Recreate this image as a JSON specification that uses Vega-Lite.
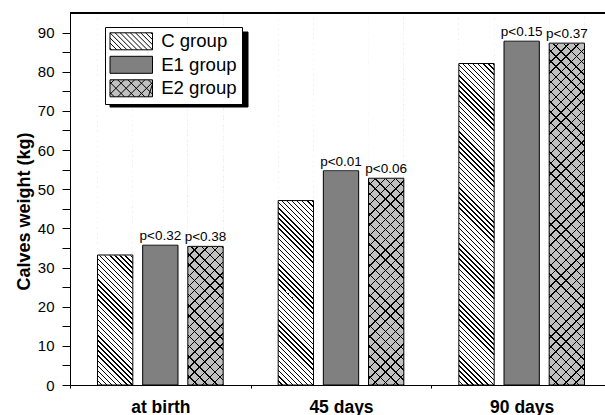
{
"$schema": "https://vega.github.io/schema/vega-lite/v6.json",
"autosize": {"type": "none"},
"width": 535,
"height": 372,
"padding": {"left": 70, "top": 13, "right": 0, "bottom": 30},
"background": "white",
"config": {"view": {"stroke": null}, "axisRight": {"domain": false, "ticks": false, "labels": false, "grid": false, "titleOpacity": 0}},
"data": {"values": [
{"time": "at birth", "group": "C group", "weight": 33.2},
{"time": "at birth", "group": "E1 group", "weight": 35.7, "p": "p<0.32"},
{"time": "at birth", "group": "E2 group", "weight": 35.4, "p": "p<0.38"},
{"time": "45 days", "group": "C group", "weight": 47.1},
{"time": "45 days", "group": "E1 group", "weight": 54.7, "p": "p<0.01"},
{"time": "45 days", "group": "E2 group", "weight": 52.8, "p": "p<0.06"},
{"time": "90 days", "group": "C group", "weight": 82.1},
{"time": "90 days", "group": "E1 group", "weight": 87.8, "p": "p<0.15"},
{"time": "90 days", "group": "E2 group", "weight": 87.3, "p": "p<0.37"}
]},
"resolve": {"axis": {"x": "independent", "y": "independent"}},
"layer": [
{
"mark": {"type": "bar", "strokeWidth": 0},
"encoding": {
"x": {"field": "time", "type": "nominal", "sort": ["at birth", "45 days", "90 days"], "scale": {"range": [0, 542], "paddingInner": 0, "paddingOuter": 0},
"axis": {"title": null, "orient": "bottom", "tickBand": "extent", "tickSize": 3, "tickColor": "#000", "domainColor": "#000", "labelFont": "Liberation Sans", "labelFontSize": 17.5, "labelFontWeight": "bold", "labelColor": "#000", "labelPadding": 24, "labelBaseline": "alphabetic", "labelAngle": 0, "grid": false, "zindex": 1}},
"xOffset": {"field": "group", "type": "nominal", "sort": ["C group", "E1 group", "E2 group"], "scale": {"paddingInner": 0.218, "paddingOuter": 0.609}},
"y": {"field": "weight", "type": "quantitative", "stack": null, "scale": {"domain": [0, 95], "nice": false, "zero": true},
"axis": {"orient": "left", "title": "Calves weight (kg)", "values": [0,5,10,15,20,25,30,35,40,45,50,55,60,65,70,75,80,85,90], "labelExpr": "datum.value % 10 === 0 ? datum.label : ''", "tickSize": 8, "encode": {"ticks": {"update": {"x2": {"signal": "datum.value % 10 === 0 ? -8 : -5"}}}}, "labelPadding": 8, "labelFont": "Liberation Sans", "labelFontSize": 15, "labelColor": "#000", "tickColor": "#000", "domainColor": "#000", "grid": false, "titleFont": "Liberation Sans", "titleFontSize": 18, "titleFontWeight": "bold", "titleColor": "#000", "titleX": -41, "titleY": 198, "titleBaseline": "alphabetic", "titleAngle": 270, "titleAlign": "center", "zindex": 1}},
"fill": {"field": "group", "type": "nominal", "scale": {"domain": ["C group", "E1 group", "E2 group"], "range": ["#ffffff", "#808080", "#c0c0c0"]},
"legend": {"orient": "none", "legendX": 35, "legendY": 14, "title": null, "symbolType": "M-2.5,-1H2.5V1H-2.5Z", "symbolSize": 289, "symbolOffset": 11.95, "labelOffset": 20.6, "labelFont": "Liberation Sans", "labelFontSize": 18.6, "labelColor": "#000", "fillColor": "#fff", "strokeColor": "#000", "padding": 5, "rowPadding": 1.5, "zindex": 2, "symbolStrokeColor": "#000", "symbolStrokeWidth": 1,
"encode": {"symbols": {"update": {"stroke": {"value": "#000"}, "strokeWidth": {"value": 1}, "shape": {"signal": "datum.value === 'C group' ? 'M-2.5,-1H2.5V1H-2.5Z M-2.5,0.8L-2.3,1 M-2.5,0.2L-1.7,1 M-2.5,-0.4L-1.1,1 M-2.5,-1L-0.5,1 M-1.9,-1L0.1,1 M-1.3,-1L0.7,1 M-0.7,-1L1.3,1 M-0.1,-1L1.9,1 M0.5,-1L2.5,1 M1.1,-1L2.5,0.4 M1.7,-1L2.5,-0.2 M2.3,-1L2.5,-0.8' : datum.value === 'E2 group' ? 'M-2.5,-1H2.5V1H-2.5Z M-2.5,0.5L-2,1 M-2.5,-0.7L-0.8,1 M-1.6,-1L0.4,1 M-0.4,-1L1.6,1 M0.8,-1L2.5,0.7 M2,-1L2.5,-0.5 M-2,-1L-2.5,-0.5 M-0.8,-1L-2.5,0.7 M0.4,-1L-1.6,1 M1.6,-1L-0.4,1 M2.5,-0.7L0.8,1 M2.5,-0.5L2,1' : 'M-2.5,-1H2.5V1H-2.5Z'"}}}}}}
}
},
{
"transform": [{"filter": "datum.group === 'C group'"}],
"mark": {"type": "bar", "strokeWidth": 0, "fill": {"gradient": "linear", "x1": 0, "y1": 1, "x2": 0.10303, "y2": -0.08513, "stops": [
{"offset":0,"color":"#fff"},{"offset":0.009,"color":"#fff"},{"offset":0.009,"color":"#000"},{"offset":0.0125,"color":"#000"},
{"offset":0.0125,"color":"#fff"},{"offset":0.0215,"color":"#fff"},{"offset":0.0215,"color":"#000"},{"offset":0.025,"color":"#000"},
{"offset":0.025,"color":"#fff"},{"offset":0.034,"color":"#fff"},{"offset":0.034,"color":"#000"},{"offset":0.0375,"color":"#000"},
{"offset":0.0375,"color":"#fff"},{"offset":0.0465,"color":"#fff"},{"offset":0.0465,"color":"#000"},{"offset":0.05,"color":"#000"},
{"offset":0.05,"color":"#fff"},{"offset":0.059,"color":"#fff"},{"offset":0.059,"color":"#000"},{"offset":0.0625,"color":"#000"},
{"offset":0.0625,"color":"#fff"},{"offset":0.0715,"color":"#fff"},{"offset":0.0715,"color":"#000"},{"offset":0.075,"color":"#000"},
{"offset":0.075,"color":"#fff"},{"offset":0.084,"color":"#fff"},{"offset":0.084,"color":"#000"},{"offset":0.0875,"color":"#000"},
{"offset":0.0875,"color":"#fff"},{"offset":0.0965,"color":"#fff"},{"offset":0.0965,"color":"#000"},{"offset":0.1,"color":"#000"},
{"offset":0.1,"color":"#fff"},{"offset":0.109,"color":"#fff"},{"offset":0.109,"color":"#000"},{"offset":0.1125,"color":"#000"},
{"offset":0.1125,"color":"#fff"},{"offset":0.1215,"color":"#fff"},{"offset":0.1215,"color":"#000"},{"offset":0.125,"color":"#000"},
{"offset":0.125,"color":"#fff"},{"offset":0.134,"color":"#fff"},{"offset":0.134,"color":"#000"},{"offset":0.1375,"color":"#000"},
{"offset":0.1375,"color":"#fff"},{"offset":0.1465,"color":"#fff"},{"offset":0.1465,"color":"#000"},{"offset":0.15,"color":"#000"},
{"offset":0.15,"color":"#fff"},{"offset":0.159,"color":"#fff"},{"offset":0.159,"color":"#000"},{"offset":0.1625,"color":"#000"},
{"offset":0.1625,"color":"#fff"},{"offset":0.1715,"color":"#fff"},{"offset":0.1715,"color":"#000"},{"offset":0.175,"color":"#000"},
{"offset":0.175,"color":"#fff"},{"offset":0.184,"color":"#fff"},{"offset":0.184,"color":"#000"},{"offset":0.1875,"color":"#000"},
{"offset":0.1875,"color":"#fff"},{"offset":0.1965,"color":"#fff"},{"offset":0.1965,"color":"#000"},{"offset":0.2,"color":"#000"},
{"offset":0.2,"color":"#fff"},{"offset":0.209,"color":"#fff"},{"offset":0.209,"color":"#000"},{"offset":0.2125,"color":"#000"},
{"offset":0.2125,"color":"#fff"},{"offset":0.2215,"color":"#fff"},{"offset":0.2215,"color":"#000"},{"offset":0.225,"color":"#000"},
{"offset":0.225,"color":"#fff"},{"offset":0.234,"color":"#fff"},{"offset":0.234,"color":"#000"},{"offset":0.2375,"color":"#000"},
{"offset":0.2375,"color":"#fff"},{"offset":0.2465,"color":"#fff"},{"offset":0.2465,"color":"#000"},{"offset":0.25,"color":"#000"},
{"offset":0.25,"color":"#fff"},{"offset":0.259,"color":"#fff"},{"offset":0.259,"color":"#000"},{"offset":0.2625,"color":"#000"},
{"offset":0.2625,"color":"#fff"},{"offset":0.2715,"color":"#fff"},{"offset":0.2715,"color":"#000"},{"offset":0.275,"color":"#000"},
{"offset":0.275,"color":"#fff"},{"offset":0.284,"color":"#fff"},{"offset":0.284,"color":"#000"},{"offset":0.2875,"color":"#000"},
{"offset":0.2875,"color":"#fff"},{"offset":0.2965,"color":"#fff"},{"offset":0.2965,"color":"#000"},{"offset":0.3,"color":"#000"},
{"offset":0.3,"color":"#fff"},{"offset":0.309,"color":"#fff"},{"offset":0.309,"color":"#000"},{"offset":0.3125,"color":"#000"},
{"offset":0.3125,"color":"#fff"},{"offset":0.3215,"color":"#fff"},{"offset":0.3215,"color":"#000"},{"offset":0.325,"color":"#000"},
{"offset":0.325,"color":"#fff"},{"offset":0.334,"color":"#fff"},{"offset":0.334,"color":"#000"},{"offset":0.3375,"color":"#000"},
{"offset":0.3375,"color":"#fff"},{"offset":0.3465,"color":"#fff"},{"offset":0.3465,"color":"#000"},{"offset":0.35,"color":"#000"},
{"offset":0.35,"color":"#fff"},{"offset":0.359,"color":"#fff"},{"offset":0.359,"color":"#000"},{"offset":0.3625,"color":"#000"},
{"offset":0.3625,"color":"#fff"},{"offset":0.3715,"color":"#fff"},{"offset":0.3715,"color":"#000"},{"offset":0.375,"color":"#000"},
{"offset":0.375,"color":"#fff"},{"offset":0.384,"color":"#fff"},{"offset":0.384,"color":"#000"},{"offset":0.3875,"color":"#000"},
{"offset":0.3875,"color":"#fff"},{"offset":0.3965,"color":"#fff"},{"offset":0.3965,"color":"#000"},{"offset":0.4,"color":"#000"},
{"offset":0.4,"color":"#fff"},{"offset":0.409,"color":"#fff"},{"offset":0.409,"color":"#000"},{"offset":0.4125,"color":"#000"},
{"offset":0.4125,"color":"#fff"},{"offset":0.4215,"color":"#fff"},{"offset":0.4215,"color":"#000"},{"offset":0.425,"color":"#000"},
{"offset":0.425,"color":"#fff"},{"offset":0.434,"color":"#fff"},{"offset":0.434,"color":"#000"},{"offset":0.4375,"color":"#000"},
{"offset":0.4375,"color":"#fff"},{"offset":0.4465,"color":"#fff"},{"offset":0.4465,"color":"#000"},{"offset":0.45,"color":"#000"},
{"offset":0.45,"color":"#fff"},{"offset":0.459,"color":"#fff"},{"offset":0.459,"color":"#000"},{"offset":0.4625,"color":"#000"},
{"offset":0.4625,"color":"#fff"},{"offset":0.4715,"color":"#fff"},{"offset":0.4715,"color":"#000"},{"offset":0.475,"color":"#000"},
{"offset":0.475,"color":"#fff"},{"offset":0.484,"color":"#fff"},{"offset":0.484,"color":"#000"},{"offset":0.4875,"color":"#000"},
{"offset":0.4875,"color":"#fff"},{"offset":0.4965,"color":"#fff"},{"offset":0.4965,"color":"#000"},{"offset":0.5,"color":"#000"},
{"offset":0.5,"color":"#fff"},{"offset":0.509,"color":"#fff"},{"offset":0.509,"color":"#000"},{"offset":0.5125,"color":"#000"},
{"offset":0.5125,"color":"#fff"},{"offset":0.5215,"color":"#fff"},{"offset":0.5215,"color":"#000"},{"offset":0.525,"color":"#000"},
{"offset":0.525,"color":"#fff"},{"offset":0.534,"color":"#fff"},{"offset":0.534,"color":"#000"},{"offset":0.5375,"color":"#000"},
{"offset":0.5375,"color":"#fff"},{"offset":0.5465,"color":"#fff"},{"offset":0.5465,"color":"#000"},{"offset":0.55,"color":"#000"},
{"offset":0.55,"color":"#fff"},{"offset":0.559,"color":"#fff"},{"offset":0.559,"color":"#000"},{"offset":0.5625,"color":"#000"},
{"offset":0.5625,"color":"#fff"},{"offset":0.5715,"color":"#fff"},{"offset":0.5715,"color":"#000"},{"offset":0.575,"color":"#000"},
{"offset":0.575,"color":"#fff"},{"offset":0.584,"color":"#fff"},{"offset":0.584,"color":"#000"},{"offset":0.5875,"color":"#000"},
{"offset":0.5875,"color":"#fff"},{"offset":0.5965,"color":"#fff"},{"offset":0.5965,"color":"#000"},{"offset":0.6,"color":"#000"},
{"offset":0.6,"color":"#fff"},{"offset":0.609,"color":"#fff"},{"offset":0.609,"color":"#000"},{"offset":0.6125,"color":"#000"},
{"offset":0.6125,"color":"#fff"},{"offset":0.6215,"color":"#fff"},{"offset":0.6215,"color":"#000"},{"offset":0.625,"color":"#000"},
{"offset":0.625,"color":"#fff"},{"offset":0.634,"color":"#fff"},{"offset":0.634,"color":"#000"},{"offset":0.6375,"color":"#000"},
{"offset":0.6375,"color":"#fff"},{"offset":0.6465,"color":"#fff"},{"offset":0.6465,"color":"#000"},{"offset":0.65,"color":"#000"},
{"offset":0.65,"color":"#fff"},{"offset":0.659,"color":"#fff"},{"offset":0.659,"color":"#000"},{"offset":0.6625,"color":"#000"},
{"offset":0.6625,"color":"#fff"},{"offset":0.6715,"color":"#fff"},{"offset":0.6715,"color":"#000"},{"offset":0.675,"color":"#000"},
{"offset":0.675,"color":"#fff"},{"offset":0.684,"color":"#fff"},{"offset":0.684,"color":"#000"},{"offset":0.6875,"color":"#000"},
{"offset":0.6875,"color":"#fff"},{"offset":0.6965,"color":"#fff"},{"offset":0.6965,"color":"#000"},{"offset":0.7,"color":"#000"},
{"offset":0.7,"color":"#fff"},{"offset":0.709,"color":"#fff"},{"offset":0.709,"color":"#000"},{"offset":0.7125,"color":"#000"},
{"offset":0.7125,"color":"#fff"},{"offset":0.7215,"color":"#fff"},{"offset":0.7215,"color":"#000"},{"offset":0.725,"color":"#000"},
{"offset":0.725,"color":"#fff"},{"offset":0.734,"color":"#fff"},{"offset":0.734,"color":"#000"},{"offset":0.7375,"color":"#000"},
{"offset":0.7375,"color":"#fff"},{"offset":0.7465,"color":"#fff"},{"offset":0.7465,"color":"#000"},{"offset":0.75,"color":"#000"},
{"offset":0.75,"color":"#fff"},{"offset":0.759,"color":"#fff"},{"offset":0.759,"color":"#000"},{"offset":0.7625,"color":"#000"},
{"offset":0.7625,"color":"#fff"},{"offset":0.7715,"color":"#fff"},{"offset":0.7715,"color":"#000"},{"offset":0.775,"color":"#000"},
{"offset":0.775,"color":"#fff"},{"offset":0.784,"color":"#fff"},{"offset":0.784,"color":"#000"},{"offset":0.7875,"color":"#000"},
{"offset":0.7875,"color":"#fff"},{"offset":0.7965,"color":"#fff"},{"offset":0.7965,"color":"#000"},{"offset":0.8,"color":"#000"},
{"offset":0.8,"color":"#fff"},{"offset":0.809,"color":"#fff"},{"offset":0.809,"color":"#000"},{"offset":0.8125,"color":"#000"},
{"offset":0.8125,"color":"#fff"},{"offset":0.8215,"color":"#fff"},{"offset":0.8215,"color":"#000"},{"offset":0.825,"color":"#000"},
{"offset":0.825,"color":"#fff"},{"offset":0.834,"color":"#fff"},{"offset":0.834,"color":"#000"},{"offset":0.8375,"color":"#000"},
{"offset":0.8375,"color":"#fff"},{"offset":0.8465,"color":"#fff"},{"offset":0.8465,"color":"#000"},{"offset":0.85,"color":"#000"},
{"offset":0.85,"color":"#fff"},{"offset":0.859,"color":"#fff"},{"offset":0.859,"color":"#000"},{"offset":0.8625,"color":"#000"},
{"offset":0.8625,"color":"#fff"},{"offset":0.8715,"color":"#fff"},{"offset":0.8715,"color":"#000"},{"offset":0.875,"color":"#000"},
{"offset":0.875,"color":"#fff"},{"offset":0.884,"color":"#fff"},{"offset":0.884,"color":"#000"},{"offset":0.8875,"color":"#000"},
{"offset":0.8875,"color":"#fff"},{"offset":0.8965,"color":"#fff"},{"offset":0.8965,"color":"#000"},{"offset":0.9,"color":"#000"},
{"offset":0.9,"color":"#fff"},{"offset":0.909,"color":"#fff"},{"offset":0.909,"color":"#000"},{"offset":0.9125,"color":"#000"},
{"offset":0.9125,"color":"#fff"},{"offset":0.9215,"color":"#fff"},{"offset":0.9215,"color":"#000"},{"offset":0.925,"color":"#000"},
{"offset":0.925,"color":"#fff"},{"offset":0.934,"color":"#fff"},{"offset":0.934,"color":"#000"},{"offset":0.9375,"color":"#000"},
{"offset":0.9375,"color":"#fff"},{"offset":0.9465,"color":"#fff"},{"offset":0.9465,"color":"#000"},{"offset":0.95,"color":"#000"},
{"offset":0.95,"color":"#fff"},{"offset":0.959,"color":"#fff"},{"offset":0.959,"color":"#000"},{"offset":0.9625,"color":"#000"},
{"offset":0.9625,"color":"#fff"},{"offset":0.9715,"color":"#fff"},{"offset":0.9715,"color":"#000"},{"offset":0.975,"color":"#000"},
{"offset":0.975,"color":"#fff"},{"offset":0.984,"color":"#fff"},{"offset":0.984,"color":"#000"},{"offset":0.9875,"color":"#000"},
{"offset":0.9875,"color":"#fff"},{"offset":0.9965,"color":"#fff"},{"offset":0.9965,"color":"#000"},{"offset":1,"color":"#000"}
]}},
"encoding": {
"x": {"field": "time", "type": "nominal", "sort": ["at birth", "45 days", "90 days"], "axis": null},
"xOffset": {"field": "group", "type": "nominal", "sort": ["C group", "E1 group", "E2 group"]},
"y": {"datum": 95, "type": "quantitative", "axis": null}
}
},
{
"transform": [{"filter": "datum.group === 'E2 group'"}],
"mark": {"type": "bar", "strokeWidth": 0, "fill": {"gradient": "linear", "x1": 0, "y1": 1, "x2": 0.10303, "y2": -0.08513, "stops": [
{"offset":0,"color":"#c0c0c0"},{"offset":0.0215,"color":"#c0c0c0"},{"offset":0.0215,"color":"#000"},{"offset":0.025,"color":"#000"},
{"offset":0.025,"color":"#c0c0c0"},{"offset":0.0465,"color":"#c0c0c0"},{"offset":0.0465,"color":"#000"},{"offset":0.05,"color":"#000"},
{"offset":0.05,"color":"#c0c0c0"},{"offset":0.0715,"color":"#c0c0c0"},{"offset":0.0715,"color":"#000"},{"offset":0.075,"color":"#000"},
{"offset":0.075,"color":"#c0c0c0"},{"offset":0.0965,"color":"#c0c0c0"},{"offset":0.0965,"color":"#000"},{"offset":0.1,"color":"#000"},
{"offset":0.1,"color":"#c0c0c0"},{"offset":0.1215,"color":"#c0c0c0"},{"offset":0.1215,"color":"#000"},{"offset":0.125,"color":"#000"},
{"offset":0.125,"color":"#c0c0c0"},{"offset":0.1465,"color":"#c0c0c0"},{"offset":0.1465,"color":"#000"},{"offset":0.15,"color":"#000"},
{"offset":0.15,"color":"#c0c0c0"},{"offset":0.1715,"color":"#c0c0c0"},{"offset":0.1715,"color":"#000"},{"offset":0.175,"color":"#000"},
{"offset":0.175,"color":"#c0c0c0"},{"offset":0.1965,"color":"#c0c0c0"},{"offset":0.1965,"color":"#000"},{"offset":0.2,"color":"#000"},
{"offset":0.2,"color":"#c0c0c0"},{"offset":0.2215,"color":"#c0c0c0"},{"offset":0.2215,"color":"#000"},{"offset":0.225,"color":"#000"},
{"offset":0.225,"color":"#c0c0c0"},{"offset":0.2465,"color":"#c0c0c0"},{"offset":0.2465,"color":"#000"},{"offset":0.25,"color":"#000"},
{"offset":0.25,"color":"#c0c0c0"},{"offset":0.2715,"color":"#c0c0c0"},{"offset":0.2715,"color":"#000"},{"offset":0.275,"color":"#000"},
{"offset":0.275,"color":"#c0c0c0"},{"offset":0.2965,"color":"#c0c0c0"},{"offset":0.2965,"color":"#000"},{"offset":0.3,"color":"#000"},
{"offset":0.3,"color":"#c0c0c0"},{"offset":0.3215,"color":"#c0c0c0"},{"offset":0.3215,"color":"#000"},{"offset":0.325,"color":"#000"},
{"offset":0.325,"color":"#c0c0c0"},{"offset":0.3465,"color":"#c0c0c0"},{"offset":0.3465,"color":"#000"},{"offset":0.35,"color":"#000"},
{"offset":0.35,"color":"#c0c0c0"},{"offset":0.3715,"color":"#c0c0c0"},{"offset":0.3715,"color":"#000"},{"offset":0.375,"color":"#000"},
{"offset":0.375,"color":"#c0c0c0"},{"offset":0.3965,"color":"#c0c0c0"},{"offset":0.3965,"color":"#000"},{"offset":0.4,"color":"#000"},
{"offset":0.4,"color":"#c0c0c0"},{"offset":0.4215,"color":"#c0c0c0"},{"offset":0.4215,"color":"#000"},{"offset":0.425,"color":"#000"},
{"offset":0.425,"color":"#c0c0c0"},{"offset":0.4465,"color":"#c0c0c0"},{"offset":0.4465,"color":"#000"},{"offset":0.45,"color":"#000"},
{"offset":0.45,"color":"#c0c0c0"},{"offset":0.4715,"color":"#c0c0c0"},{"offset":0.4715,"color":"#000"},{"offset":0.475,"color":"#000"},
{"offset":0.475,"color":"#c0c0c0"},{"offset":0.4965,"color":"#c0c0c0"},{"offset":0.4965,"color":"#000"},{"offset":0.5,"color":"#000"},
{"offset":0.5,"color":"#c0c0c0"},{"offset":0.5215,"color":"#c0c0c0"},{"offset":0.5215,"color":"#000"},{"offset":0.525,"color":"#000"},
{"offset":0.525,"color":"#c0c0c0"},{"offset":0.5465,"color":"#c0c0c0"},{"offset":0.5465,"color":"#000"},{"offset":0.55,"color":"#000"},
{"offset":0.55,"color":"#c0c0c0"},{"offset":0.5715,"color":"#c0c0c0"},{"offset":0.5715,"color":"#000"},{"offset":0.575,"color":"#000"},
{"offset":0.575,"color":"#c0c0c0"},{"offset":0.5965,"color":"#c0c0c0"},{"offset":0.5965,"color":"#000"},{"offset":0.6,"color":"#000"},
{"offset":0.6,"color":"#c0c0c0"},{"offset":0.6215,"color":"#c0c0c0"},{"offset":0.6215,"color":"#000"},{"offset":0.625,"color":"#000"},
{"offset":0.625,"color":"#c0c0c0"},{"offset":0.6465,"color":"#c0c0c0"},{"offset":0.6465,"color":"#000"},{"offset":0.65,"color":"#000"},
{"offset":0.65,"color":"#c0c0c0"},{"offset":0.6715,"color":"#c0c0c0"},{"offset":0.6715,"color":"#000"},{"offset":0.675,"color":"#000"},
{"offset":0.675,"color":"#c0c0c0"},{"offset":0.6965,"color":"#c0c0c0"},{"offset":0.6965,"color":"#000"},{"offset":0.7,"color":"#000"},
{"offset":0.7,"color":"#c0c0c0"},{"offset":0.7215,"color":"#c0c0c0"},{"offset":0.7215,"color":"#000"},{"offset":0.725,"color":"#000"},
{"offset":0.725,"color":"#c0c0c0"},{"offset":0.7465,"color":"#c0c0c0"},{"offset":0.7465,"color":"#000"},{"offset":0.75,"color":"#000"},
{"offset":0.75,"color":"#c0c0c0"},{"offset":0.7715,"color":"#c0c0c0"},{"offset":0.7715,"color":"#000"},{"offset":0.775,"color":"#000"},
{"offset":0.775,"color":"#c0c0c0"},{"offset":0.7965,"color":"#c0c0c0"},{"offset":0.7965,"color":"#000"},{"offset":0.8,"color":"#000"},
{"offset":0.8,"color":"#c0c0c0"},{"offset":0.8215,"color":"#c0c0c0"},{"offset":0.8215,"color":"#000"},{"offset":0.825,"color":"#000"},
{"offset":0.825,"color":"#c0c0c0"},{"offset":0.8465,"color":"#c0c0c0"},{"offset":0.8465,"color":"#000"},{"offset":0.85,"color":"#000"},
{"offset":0.85,"color":"#c0c0c0"},{"offset":0.8715,"color":"#c0c0c0"},{"offset":0.8715,"color":"#000"},{"offset":0.875,"color":"#000"},
{"offset":0.875,"color":"#c0c0c0"},{"offset":0.8965,"color":"#c0c0c0"},{"offset":0.8965,"color":"#000"},{"offset":0.9,"color":"#000"},
{"offset":0.9,"color":"#c0c0c0"},{"offset":0.9215,"color":"#c0c0c0"},{"offset":0.9215,"color":"#000"},{"offset":0.925,"color":"#000"},
{"offset":0.925,"color":"#c0c0c0"},{"offset":0.9465,"color":"#c0c0c0"},{"offset":0.9465,"color":"#000"},{"offset":0.95,"color":"#000"},
{"offset":0.95,"color":"#c0c0c0"},{"offset":0.9715,"color":"#c0c0c0"},{"offset":0.9715,"color":"#000"},{"offset":0.975,"color":"#000"},
{"offset":0.975,"color":"#c0c0c0"},{"offset":0.9965,"color":"#c0c0c0"},{"offset":0.9965,"color":"#000"},{"offset":1,"color":"#000"}
]}},
"encoding": {
"x": {"field": "time", "type": "nominal", "sort": ["at birth", "45 days", "90 days"], "axis": null},
"xOffset": {"field": "group", "type": "nominal", "sort": ["C group", "E1 group", "E2 group"]},
"y": {"datum": 95, "type": "quantitative", "axis": null}
}
},
{
"transform": [{"filter": "datum.group === 'E2 group'"}],
"mark": {"type": "bar", "strokeWidth": 0, "fill": {"gradient": "linear", "x1": 0, "y1": 0, "x2": 0.10303, "y2": 1.08513, "stops": [
{"offset":0,"color":"transparent"},{"offset":0.0215,"color":"transparent"},{"offset":0.0215,"color":"#000"},{"offset":0.025,"color":"#000"},
{"offset":0.025,"color":"transparent"},{"offset":0.0465,"color":"transparent"},{"offset":0.0465,"color":"#000"},{"offset":0.05,"color":"#000"},
{"offset":0.05,"color":"transparent"},{"offset":0.0715,"color":"transparent"},{"offset":0.0715,"color":"#000"},{"offset":0.075,"color":"#000"},
{"offset":0.075,"color":"transparent"},{"offset":0.0965,"color":"transparent"},{"offset":0.0965,"color":"#000"},{"offset":0.1,"color":"#000"},
{"offset":0.1,"color":"transparent"},{"offset":0.1215,"color":"transparent"},{"offset":0.1215,"color":"#000"},{"offset":0.125,"color":"#000"},
{"offset":0.125,"color":"transparent"},{"offset":0.1465,"color":"transparent"},{"offset":0.1465,"color":"#000"},{"offset":0.15,"color":"#000"},
{"offset":0.15,"color":"transparent"},{"offset":0.1715,"color":"transparent"},{"offset":0.1715,"color":"#000"},{"offset":0.175,"color":"#000"},
{"offset":0.175,"color":"transparent"},{"offset":0.1965,"color":"transparent"},{"offset":0.1965,"color":"#000"},{"offset":0.2,"color":"#000"},
{"offset":0.2,"color":"transparent"},{"offset":0.2215,"color":"transparent"},{"offset":0.2215,"color":"#000"},{"offset":0.225,"color":"#000"},
{"offset":0.225,"color":"transparent"},{"offset":0.2465,"color":"transparent"},{"offset":0.2465,"color":"#000"},{"offset":0.25,"color":"#000"},
{"offset":0.25,"color":"transparent"},{"offset":0.2715,"color":"transparent"},{"offset":0.2715,"color":"#000"},{"offset":0.275,"color":"#000"},
{"offset":0.275,"color":"transparent"},{"offset":0.2965,"color":"transparent"},{"offset":0.2965,"color":"#000"},{"offset":0.3,"color":"#000"},
{"offset":0.3,"color":"transparent"},{"offset":0.3215,"color":"transparent"},{"offset":0.3215,"color":"#000"},{"offset":0.325,"color":"#000"},
{"offset":0.325,"color":"transparent"},{"offset":0.3465,"color":"transparent"},{"offset":0.3465,"color":"#000"},{"offset":0.35,"color":"#000"},
{"offset":0.35,"color":"transparent"},{"offset":0.3715,"color":"transparent"},{"offset":0.3715,"color":"#000"},{"offset":0.375,"color":"#000"},
{"offset":0.375,"color":"transparent"},{"offset":0.3965,"color":"transparent"},{"offset":0.3965,"color":"#000"},{"offset":0.4,"color":"#000"},
{"offset":0.4,"color":"transparent"},{"offset":0.4215,"color":"transparent"},{"offset":0.4215,"color":"#000"},{"offset":0.425,"color":"#000"},
{"offset":0.425,"color":"transparent"},{"offset":0.4465,"color":"transparent"},{"offset":0.4465,"color":"#000"},{"offset":0.45,"color":"#000"},
{"offset":0.45,"color":"transparent"},{"offset":0.4715,"color":"transparent"},{"offset":0.4715,"color":"#000"},{"offset":0.475,"color":"#000"},
{"offset":0.475,"color":"transparent"},{"offset":0.4965,"color":"transparent"},{"offset":0.4965,"color":"#000"},{"offset":0.5,"color":"#000"},
{"offset":0.5,"color":"transparent"},{"offset":0.5215,"color":"transparent"},{"offset":0.5215,"color":"#000"},{"offset":0.525,"color":"#000"},
{"offset":0.525,"color":"transparent"},{"offset":0.5465,"color":"transparent"},{"offset":0.5465,"color":"#000"},{"offset":0.55,"color":"#000"},
{"offset":0.55,"color":"transparent"},{"offset":0.5715,"color":"transparent"},{"offset":0.5715,"color":"#000"},{"offset":0.575,"color":"#000"},
{"offset":0.575,"color":"transparent"},{"offset":0.5965,"color":"transparent"},{"offset":0.5965,"color":"#000"},{"offset":0.6,"color":"#000"},
{"offset":0.6,"color":"transparent"},{"offset":0.6215,"color":"transparent"},{"offset":0.6215,"color":"#000"},{"offset":0.625,"color":"#000"},
{"offset":0.625,"color":"transparent"},{"offset":0.6465,"color":"transparent"},{"offset":0.6465,"color":"#000"},{"offset":0.65,"color":"#000"},
{"offset":0.65,"color":"transparent"},{"offset":0.6715,"color":"transparent"},{"offset":0.6715,"color":"#000"},{"offset":0.675,"color":"#000"},
{"offset":0.675,"color":"transparent"},{"offset":0.6965,"color":"transparent"},{"offset":0.6965,"color":"#000"},{"offset":0.7,"color":"#000"},
{"offset":0.7,"color":"transparent"},{"offset":0.7215,"color":"transparent"},{"offset":0.7215,"color":"#000"},{"offset":0.725,"color":"#000"},
{"offset":0.725,"color":"transparent"},{"offset":0.7465,"color":"transparent"},{"offset":0.7465,"color":"#000"},{"offset":0.75,"color":"#000"},
{"offset":0.75,"color":"transparent"},{"offset":0.7715,"color":"transparent"},{"offset":0.7715,"color":"#000"},{"offset":0.775,"color":"#000"},
{"offset":0.775,"color":"transparent"},{"offset":0.7965,"color":"transparent"},{"offset":0.7965,"color":"#000"},{"offset":0.8,"color":"#000"},
{"offset":0.8,"color":"transparent"},{"offset":0.8215,"color":"transparent"},{"offset":0.8215,"color":"#000"},{"offset":0.825,"color":"#000"},
{"offset":0.825,"color":"transparent"},{"offset":0.8465,"color":"transparent"},{"offset":0.8465,"color":"#000"},{"offset":0.85,"color":"#000"},
{"offset":0.85,"color":"transparent"},{"offset":0.8715,"color":"transparent"},{"offset":0.8715,"color":"#000"},{"offset":0.875,"color":"#000"},
{"offset":0.875,"color":"transparent"},{"offset":0.8965,"color":"transparent"},{"offset":0.8965,"color":"#000"},{"offset":0.9,"color":"#000"},
{"offset":0.9,"color":"transparent"},{"offset":0.9215,"color":"transparent"},{"offset":0.9215,"color":"#000"},{"offset":0.925,"color":"#000"},
{"offset":0.925,"color":"transparent"},{"offset":0.9465,"color":"transparent"},{"offset":0.9465,"color":"#000"},{"offset":0.95,"color":"#000"},
{"offset":0.95,"color":"transparent"},{"offset":0.9715,"color":"transparent"},{"offset":0.9715,"color":"#000"},{"offset":0.975,"color":"#000"},
{"offset":0.975,"color":"transparent"},{"offset":0.9965,"color":"transparent"},{"offset":0.9965,"color":"#000"},{"offset":1,"color":"#000"}
]}},
"encoding": {
"x": {"field": "time", "type": "nominal", "sort": ["at birth", "45 days", "90 days"], "axis": null},
"xOffset": {"field": "group", "type": "nominal", "sort": ["C group", "E1 group", "E2 group"]},
"y": {"datum": 95, "type": "quantitative", "axis": null}
}
},
{
"mark": {"type": "bar", "fill": "#fff", "stroke": "#fff", "strokeWidth": 1},
"encoding": {
"x": {"field": "time", "type": "nominal", "sort": ["at birth", "45 days", "90 days"], "axis": null},
"xOffset": {"field": "group", "type": "nominal", "sort": ["C group", "E1 group", "E2 group"]},
"y": {"field": "weight", "type": "quantitative", "axis": null},
"y2": {"datum": 95},
"strokeDash": {"field": "group", "type": "nominal", "scale": {"range": [[1, 0], [1, 0], [1, 0]]},
"legend": {"orient": "none", "legendX": 39.5, "legendY": 18.5, "title": null, "values": ["C group"], "labelExpr": "''", "labelFontSize": 1, "symbolType": "M-1,-1H15.18V7.82H-1Z", "symbolSize": 289, "symbolOffset": 0, "symbolStrokeWidth": 0, "symbolOpacity": 0, "fillColor": "#000", "strokeColor": "#000", "padding": 0, "zindex": 1}}
}
},
{
"mark": {"type": "rule", "color": "#000", "strokeWidth": 1},
"encoding": {
"y": {"datum": 95, "type": "quantitative", "axis": null}
}
},
{
"mark": {"type": "bar", "filled": false, "stroke": "#000", "strokeWidth": 1},
"encoding": {
"x": {"field": "time", "type": "nominal", "sort": ["at birth", "45 days", "90 days"], "axis": null},
"xOffset": {"field": "group", "type": "nominal", "sort": ["C group", "E1 group", "E2 group"]},
"y": {"field": "weight", "type": "quantitative", "stack": null, "axis": null}
}
},
{
"transform": [{"filter": "isValid(datum.p)"}],
"mark": {"type": "text", "dy": -5, "baseline": "alphabetic", "font": "Liberation Sans", "fontSize": 13.5, "fill": "#000"},
"encoding": {
"x": {"field": "time", "type": "nominal", "sort": ["at birth", "45 days", "90 days"], "axis": null},
"xOffset": {"field": "group", "type": "nominal", "sort": ["C group", "E1 group", "E2 group"]},
"y": {"field": "weight", "type": "quantitative", "axis": null},
"text": {"field": "p"}
}
}
]
}
